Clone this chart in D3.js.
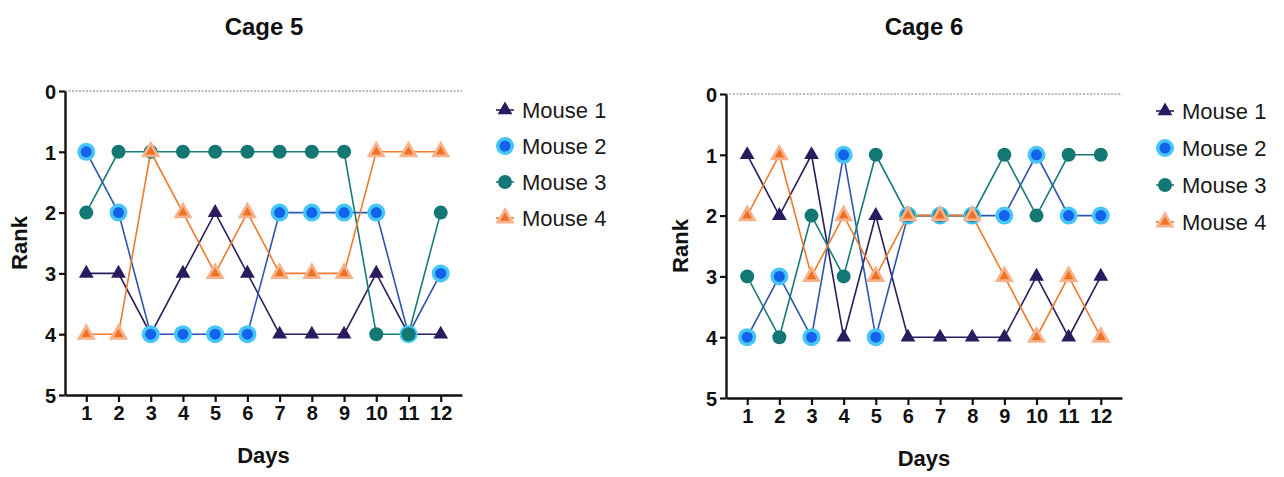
<!DOCTYPE html>
<html>
<head>
<meta charset="utf-8">
<script src="https://cdn.jsdelivr.net/npm/d3@7"></script>
<style>
  html, body { margin: 0; padding: 0; background: #fff; }
  svg { display: block; }
  .tick text { font-family: "Liberation Sans Narrow", "Arial Narrow", "Liberation Sans", Arial, sans-serif; font-weight: bold; font-size: 20px; fill: #111; }
</style>
</head>
<body>
<svg id="chart" width="1284" height="477"></svg>
<script>
// Daily dominance rank of each mouse (1 = highest rank)
const days = [1, 2, 3, 4, 5, 6, 7, 8, 9, 10, 11, 12];
const rankTicks = [0, 1, 2, 3, 4, 5];
const mice = ["Mouse 1", "Mouse 2", "Mouse 3", "Mouse 4"];

const cage5Mouse1 = [3, 3, 4, 3, 2, 3, 4, 4, 4, 3, 4, 4];
const cage5Mouse2 = [1, 2, 4, 4, 4, 4, 2, 2, 2, 2, 4, 3];
const cage5Mouse3 = [2, 1, 1, 1, 1, 1, 1, 1, 1, 4, 4, 2];
const cage5Mouse4 = [4, 4, 1, 2, 3, 2, 3, 3, 3, 1, 1, 1];

const cage6Mouse1 = [1, 2, 1, 4, 2, 4, 4, 4, 4, 3, 4, 3];
const cage6Mouse2 = [4, 3, 4, 1, 4, 2, 2, 2, 2, 1, 2, 2];
const cage6Mouse3 = [3, 4, 2, 3, 1, 2, 2, 2, 1, 2, 1, 1];
const cage6Mouse4 = [2, 1, 3, 2, 3, 2, 2, 2, 3, 4, 3, 4];

const panels = [
  { title: "Cage 5", series: [cage5Mouse1, cage5Mouse2, cage5Mouse3, cage5Mouse4],
    x0: 65, x1: 462, y0: 91, y1: 395, titleX: 264, rankX: 19, legendX: 505, legendY: [110, 146, 182, 218] },
  { title: "Cage 6", series: [cage6Mouse1, cage6Mouse2, cage6Mouse3, cage6Mouse4],
    x0: 726, x1: 1122, y0: 94, y1: 398, titleX: 924, rankX: 680, legendX: 1165, legendY: [111, 148, 185, 222] }
];

// Per-series styling
const styles = [
  { line: "#2a1d5c", kind: "tri", outer: null, fill: "#2a1b5e", size: 95 },
  { line: "#2c55ae", kind: "circ", outer: "#45c6f6", fill: "#1562ea", r: 9, ri: 5.5 },
  { line: "#167a76", kind: "circ", outer: null, fill: "#137874", r: 7 },
  { line: "#ee7a2c", kind: "tri", outer: "#f7b28c", fill: "#ef7122", size: 40, outerSize: 160 }
];

const svg = d3.select("#chart");
const font = "'Liberation Sans', Arial, sans-serif";

function drawMarker(g, s, cx, cy) {
  if (s.kind === "circ") {
    if (s.outer) g.append("circle").attr("cx", cx).attr("cy", cy).attr("r", s.r).attr("fill", s.outer);
    g.append("circle").attr("cx", cx).attr("cy", cy).attr("r", s.outer ? s.ri : s.r).attr("fill", s.fill);
  } else {
    if (s.outer) g.append("path")
      .attr("d", d3.symbol(d3.symbolTriangle, s.outerSize)())
      .attr("transform", `translate(${cx},${cy})`).attr("fill", s.outer);
    g.append("path")
      .attr("d", d3.symbol(d3.symbolTriangle, s.size)())
      .attr("transform", `translate(${cx},${cy})`).attr("fill", s.fill);
  }
}

panels.forEach(p => {
  const x = d3.scaleLinear().domain([0.34, 12.66]).range([p.x0, p.x1]);
  const y = d3.scaleLinear().domain([0, 5]).range([p.y0, p.y1]);
  const g = svg.append("g");

  // Title
  g.append("text").attr("x", p.titleX).attr("y", 35).attr("text-anchor", "middle")
    .attr("font-family", font).attr("font-weight", "bold").attr("font-size", 24).attr("fill", "#111")
    .text(p.title);

  // Dotted reference line at rank 0
  g.append("line").attr("x1", p.x0).attr("x2", p.x1).attr("y1", y(0)).attr("y2", y(0))
    .attr("stroke", "#777").attr("stroke-width", 1).attr("stroke-dasharray", "2,1.5");

  // Axes
  const yAxis = d3.axisLeft(y).tickValues(rankTicks).tickFormat(d3.format("d")).tickSize(6).tickPadding(3).tickSizeOuter(0);
  const gy = g.append("g").attr("transform", `translate(${p.x0},0)`).call(yAxis);
  const xAxis = d3.axisBottom(x).tickValues(days).tickFormat(d3.format("d")).tickSize(7).tickPadding(4).tickSizeOuter(0);
  const gx = g.append("g").attr("transform", `translate(0,${p.y1})`).call(xAxis);
  [gx, gy].forEach(a => {
    a.select(".domain").attr("stroke", "#111").attr("stroke-width", 2.4);
    a.selectAll(".tick line").attr("stroke", "#111").attr("stroke-width", 2.2);
  });
  gy.selectAll(".tick text").attr("dy", "0.36em");

  // Axis titles
  g.append("text").attr("transform", `translate(${p.rankX + 8},${(p.y0 + p.y1) / 2}) rotate(-90)`)
    .attr("text-anchor", "middle").attr("font-family", font).attr("font-weight", "bold")
    .attr("font-size", 22).attr("fill", "#111").text("Rank");
  g.append("text").attr("x", (x(1) + x(12)) / 2).attr("y", p.y1 + 68).attr("text-anchor", "middle")
    .attr("font-family", font).attr("font-weight", "bold").attr("font-size", 22).attr("fill", "#111")
    .text("Days");

  // Lines
  const line = d3.line().x((d, i) => x(days[i])).y(d => y(d));
  p.series.forEach((vals, k) => {
    g.append("path").datum(vals).attr("d", line).attr("fill", "none")
      .attr("stroke", styles[k].line).attr("stroke-width", 1.6);
  });
  // Markers
  p.series.forEach((vals, k) => {
    const mg = g.append("g");
    vals.forEach((v, i) => drawMarker(mg, styles[k], x(days[i]), y(v)));
  });

  // Legend
  mice.forEach((name, k) => {
    const ly = p.legendY[k];
    const lg = g.append("g");
    lg.append("line").attr("x1", p.legendX - 9).attr("x2", p.legendX + 9).attr("y1", ly).attr("y2", ly)
      .attr("stroke", styles[k].line).attr("stroke-width", 1.6);
    drawMarker(lg, styles[k], p.legendX, ly);
    lg.append("text").attr("x", p.legendX + 17).attr("y", ly + 8)
      .attr("font-family", font).attr("font-size", 22).attr("fill", "#1a1a1a").text(name);
  });
});
</script>
</body>
</html>
